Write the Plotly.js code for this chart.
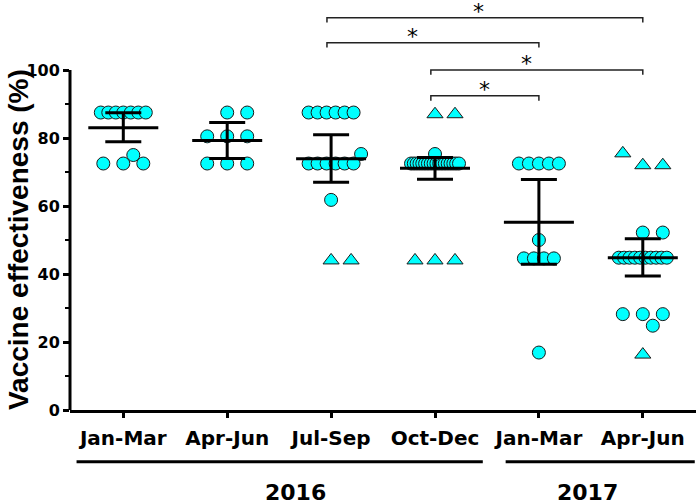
<!DOCTYPE html>
<html><head><meta charset="utf-8">
<script src="https://cdn.plot.ly/plotly-3.0.1.min.js"></script>
<style>html,body{margin:0;padding:0;background:#fff}#chart{width:698px;height:504px}</style>
</head><body><div id="chart"></div>
<script>
// ---------- data ----------
const categories = ['Jan-Mar', 'Apr-Jun', 'Jul-Sep', 'Oct-Dec', 'Jan-Mar', 'Apr-Jun'];
const years = ['2016', '2017'];
const yearSpans = [[0, 3], [4, 5]];

const circleJanMar16 = [87.5, 87.5, 87.5, 87.5, 87.5, 87.5, 87.5, 72.5, 72.5, 72.5, 75.0];
const circleAprJun16 = [87.5, 87.5, 80.5, 80.5, 80.5, 72.5, 72.5, 72.5];
const circleJulSep16 = [87.5, 87.5, 87.5, 87.5, 87.5, 87.5, 72.5, 72.5, 72.5, 72.5, 72.5, 72.5, 75.3, 61.8];
const circleOctDec16 = [72.5, 72.5, 72.5, 72.5, 72.5, 72.5, 72.5, 72.5, 72.5, 72.5, 72.5, 72.5, 72.5, 72.5, 72.5, 72.5, 72.5, 72.5, 75.3];
const circleJanMar17 = [72.5, 72.5, 72.5, 72.5, 72.5, 50.0, 44.6, 44.6, 44.6, 44.6, 16.9];
const circleAprJun17 = [52.2, 52.2, 44.8, 44.8, 44.8, 44.8, 44.8, 44.8, 44.8, 44.8, 44.8, 44.8, 28.2, 28.2, 28.2, 24.8];

const triJanMar16 = [];
const triAprJun16 = [];
const triJulSep16 = [44.0, 44.0];
const triOctDec16 = [87.0, 87.0, 44.0, 44.0, 44.0];
const triJanMar17 = [];
const triAprJun17 = [75.5, 72.0, 72.0, 16.3];

const means = [83.0, 79.3, 73.9, 71.1, 55.2, 44.8];
const upperCI = [87.4, 84.6, 81.0, 74.3, 67.8, 50.4];
const lowerCI = [78.9, 74.0, 67.0, 67.9, 42.9, 39.4];

const comparisons = [[2, 5], [2, 4], [3, 5], [3, 4]];
const compLabels = ['*', '*', '*', '*'];

// ---------- layout constants ----------
const W = 698, H = 504;
const M = {l: 70, r: 2, t: 0, b: 94};
const xRange = [-0.513, 5.512];
const yRange = [0, 120.6];
const pxPerX = (W - M.l - M.r) / (xRange[1] - xRange[0]);
const pxPerY = (H - M.t - M.b) / (yRange[1] - yRange[0]);
const plotH = H - M.t - M.b;

const circles = [circleJanMar16, circleAprJun16, circleJulSep16, circleOctDec16, circleJanMar17, circleAprJun17];
const tris = [triJanMar16, triAprJun16, triJulSep16, triOctDec16, triJanMar17, triAprJun17];

// Prism-like column scatter placement (offsets in px)
function placeGroup(gi) {
  const pts = [];
  circles[gi].forEach(v => pts.push({v: v, s: 0}));
  tris[gi].forEach(v => pts.push({v: v, s: 1}));
  const rows = {};
  pts.forEach(p => { const k = p.s + '_' + p.v; (rows[k] = rows[k] || []).push(p); });
  const rowList = Object.values(rows);
  const big = rowList.filter(r => r.length > 3);
  const small = rowList.filter(r => r.length <= 3)
    .sort((a, b) => (b.length - a.length) || (a[0].v - b[0].v));
  const placed = [];
  big.forEach(r => {
    const n = r.length;
    const sp = n > 8 ? 48 / (n - 1) : Math.min(10, 45 / (n - 1));
    r.forEach((p, i) => { p.dx = (i - (n - 1) / 2) * sp; p.dense = n > 8; placed.push(p); });
  });
  const cands = [0, 1, -1, 0.5, -0.5, 1.5, -1.5, 2, -2, 2.5, -2.5];
  small.forEach(r => r.forEach(p => {
    p.dx = 0;
    for (const c of cands) {
      const dx = c * 20;
      const ok = placed.every(q => q.dense || Math.hypot(q.dx - dx, (q.v - p.v) * pxPerY) >= 12);
      if (ok) { p.dx = dx; break; }
    }
    placed.push(p);
  }));
  return pts;
}

const cx = [], cy = [], tx = [], ty = [];
categories.forEach((c, gi) => {
  placeGroup(gi).forEach(p => {
    const x = gi + p.dx / pxPerX;
    if (p.s === 0) { cx.push(x); cy.push(p.v); } else { tx.push(x); ty.push(p.v); }
  });
});

const CYAN = '#00FFFF';
const traces = [
  {type: 'scatter', mode: 'markers', x: cx, y: cy, hoverinfo: 'skip',
   marker: {symbol: 'circle', size: 13, color: CYAN, line: {color: '#1a1a1a', width: 1}}},
  {type: 'scatter', mode: 'markers', x: tx, y: ty, hoverinfo: 'skip',
   marker: {symbol: 'triangle-up', size: 14, color: CYAN, line: {color: '#1a1a1a', width: 1}}},
  {type: 'scatter', mode: 'markers', x: categories.map((c, i) => i), y: means, hoverinfo: 'skip',
   marker: {symbol: 'line-ew', size: 50, color: '#000', line: {color: '#000', width: 3}},
   error_y: {type: 'data', symmetric: false,
     array: upperCI.map((u, i) => u - means[i]),
     arrayminus: lowerCI.map((l, i) => means[i] - l),
     width: 18, thickness: 3, color: '#000'}}
];

// significance brackets
const levels = [115.4, 108.0, 100.0, 92.4];
const drop = 1.4;
const starShift = [-6, -20, -10, 0];
const bx = [], by = [];
const annotations = [];
comparisons.forEach((cmp, i) => {
  const a = cmp[0] - 0.04, b = cmp[1];
  bx.push(a, a, b, b, null);
  by.push(levels[i] - drop, levels[i], levels[i], levels[i] - drop, null);
  annotations.push({x: (a + b) / 2, y: levels[i], xref: 'x', yref: 'y', text: compLabels[i],
    showarrow: false, xanchor: 'center', yanchor: 'bottom', yshift: -8, xshift: starShift[i],
    font: {family: 'DejaVu Sans', size: 22, color: '#000'}});
});
traces.push({type: 'scatter', mode: 'lines', x: bx, y: by, hoverinfo: 'skip',
  line: {color: '#222', width: 1.5}, connectgaps: false});

// year groupings
const yearPads = [[0.45, 0.46], [0.32, 0.50]];
const yearTextX = [1.66, 4.47];
const shapes = [];
years.forEach((yr, i) => {
  shapes.push({type: 'line', xref: 'x', yref: 'paper',
    x0: yearSpans[i][0] - yearPads[i][0], x1: yearSpans[i][1] + yearPads[i][1],
    y0: -51.7 / plotH, y1: -51.7 / plotH, line: {color: '#000', width: 3}});
  annotations.push({x: yearTextX[i], y: -82.5 / plotH, xref: 'x', yref: 'paper', text: yr,
    showarrow: false, xanchor: 'center', yanchor: 'middle',
    font: {family: 'DejaVu Sans', size: 22, color: '#000', weight: 'bold'}});
});
// y axis line only up to 100
shapes.push({type: 'line', xref: 'paper', yref: 'y', x0: 0, x1: 0, y0: 0, y1: 100,
  line: {color: '#000', width: 3}});

// y-axis title
annotations.push({x: (18 - M.l) / (W - M.l - M.r), y: 50, xref: 'paper', yref: 'y',
  text: 'Vaccine effectiveness (%)', textangle: -90, showarrow: false,
  xanchor: 'center', yanchor: 'middle',
  font: {family: 'Liberation Sans', size: 28, color: '#000', weight: 'bold'}});

const layout = {
  width: W, height: H, margin: M,
  paper_bgcolor: '#fff', plot_bgcolor: '#fff', showlegend: false,
  xaxis: {range: xRange, tickmode: 'array', tickvals: categories.map((c, i) => i), ticktext: categories,
    showline: true, linecolor: '#000', linewidth: 3, ticks: 'outside', ticklen: 5, tickwidth: 3,
    tickcolor: '#000', showgrid: false, zeroline: false, ticklabelstandoff: 3,
    tickfont: {family: 'DejaVu Sans', size: 20, color: '#000', weight: 'bold'}},
  yaxis: {range: yRange, tickmode: 'array', tickvals: [0, 20, 40, 60, 80, 100],
    showline: false, ticks: 'outside', ticklen: 6, tickwidth: 3, tickcolor: '#000',
    showgrid: false, zeroline: false,
    minor: {tickmode: 'array', tickvals: [10, 30, 50, 70, 90], ticks: 'outside', ticklen: 4, tickwidth: 2, tickcolor: '#000'},
    tickfont: {family: 'DejaVu Sans', size: 16, color: '#000', weight: 'bold'}},
  shapes: shapes, annotations: annotations
};

Plotly.newPlot('chart', traces, layout, {displayModeBar: false, staticPlot: true});
</script>
</body></html>
